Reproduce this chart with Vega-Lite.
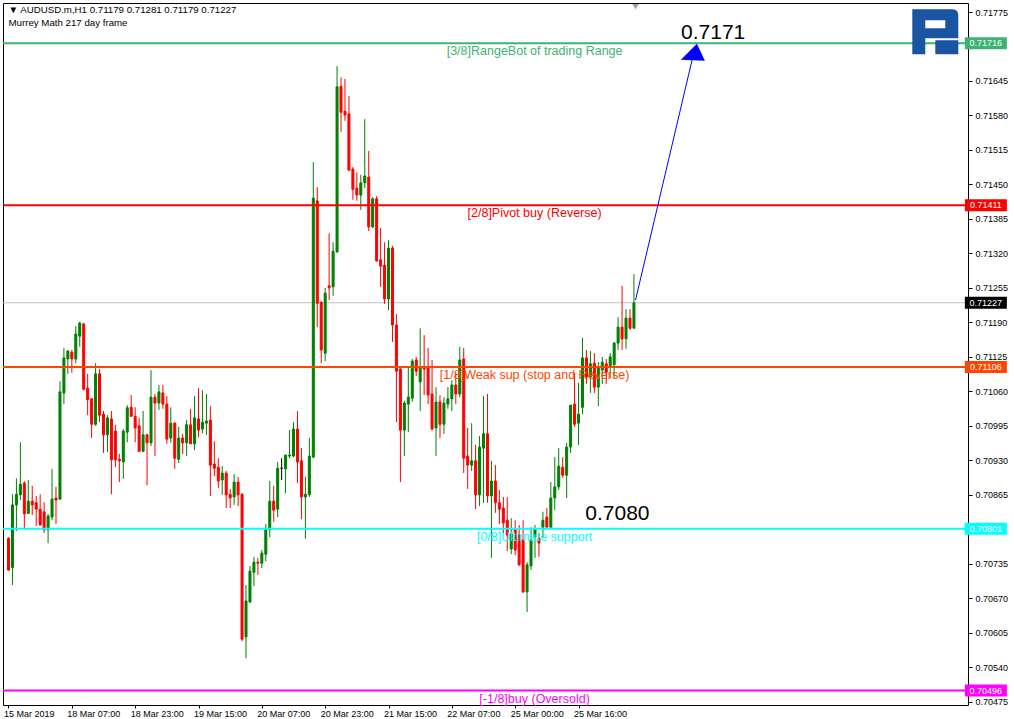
{
  "$schema": "https://vega.github.io/schema/vega-lite/v6.json",
  "width": 965,
  "height": 702,
  "autosize": {"type": "none"},
  "padding": {"left": 3, "top": 3, "right": 46, "bottom": 14},
  "background": "#FFFFFF",
  "config": {
    "view": {"stroke": "#000000", "strokeWidth": 1},
    "font": "Liberation Sans",
    "axis": {"grid": false, "domain": false, "tickColor": "#000000", "labelColor": "#000000", "labelFont": "Liberation Sans", "labelFontSize": 9, "title": null, "labelOverlap": false}
  },
  "datasets": {
    "candles": [
      {"i":0,"o":0.70783,"h":0.70785,"l":0.70722,"c":0.70723},
      {"i":1,"o":0.70728,"h":0.70866,"l":0.70695,"c":0.70846},
      {"i":2,"o":0.70846,"h":0.70896,"l":0.70797,"c":0.70866},
      {"i":3,"o":0.70865,"h":0.70964,"l":0.70855,"c":0.70885},
      {"i":4,"o":0.70887,"h":0.70891,"l":0.70799,"c":0.70829},
      {"i":5,"o":0.70830,"h":0.70893,"l":0.70829,"c":0.70853},
      {"i":6,"o":0.70853,"h":0.70882,"l":0.70827,"c":0.70846},
      {"i":7,"o":0.70850,"h":0.70863,"l":0.70806,"c":0.70838},
      {"i":8,"o":0.70838,"h":0.70866,"l":0.70808,"c":0.70808},
      {"i":9,"o":0.70833,"h":0.70851,"l":0.70793,"c":0.70799},
      {"i":10,"o":0.70799,"h":0.70829,"l":0.70774,"c":0.70825},
      {"i":11,"o":0.70823,"h":0.70914,"l":0.70817,"c":0.70857},
      {"i":12,"o":0.70859,"h":0.70880,"l":0.70810,"c":0.70855},
      {"i":13,"o":0.70857,"h":0.71079,"l":0.70855,"c":0.71059},
      {"i":14,"o":0.71057,"h":0.71142,"l":0.71036,"c":0.71123},
      {"i":15,"o":0.71121,"h":0.71138,"l":0.71093,"c":0.71136},
      {"i":16,"o":0.71134,"h":0.71138,"l":0.71095,"c":0.71121},
      {"i":17,"o":0.71121,"h":0.71183,"l":0.71113,"c":0.71168},
      {"i":18,"o":0.71164,"h":0.71191,"l":0.71144,"c":0.71189},
      {"i":19,"o":0.71187,"h":0.71189,"l":0.71062,"c":0.71064},
      {"i":20,"o":0.71066,"h":0.71093,"l":0.71015,"c":0.71044},
      {"i":21,"o":0.71046,"h":0.71047,"l":0.70972,"c":0.70998},
      {"i":22,"o":0.70998,"h":0.71113,"l":0.70995,"c":0.71093},
      {"i":23,"o":0.71093,"h":0.71102,"l":0.71002,"c":0.71015},
      {"i":24,"o":0.71017,"h":0.71023,"l":0.70944,"c":0.70978},
      {"i":25,"o":0.70978,"h":0.71015,"l":0.70946,"c":0.71010},
      {"i":26,"o":0.71008,"h":0.71023,"l":0.70866,"c":0.70931},
      {"i":27,"o":0.70985,"h":0.70997,"l":0.70917,"c":0.70931},
      {"i":28,"o":0.70932,"h":0.70942,"l":0.70889,"c":0.70929},
      {"i":29,"o":0.70927,"h":0.70989,"l":0.70895,"c":0.70985},
      {"i":30,"o":0.70983,"h":0.71034,"l":0.70964,"c":0.71029},
      {"i":31,"o":0.71030,"h":0.71053,"l":0.71012,"c":0.71013},
      {"i":32,"o":0.71013,"h":0.71030,"l":0.70964,"c":0.70991},
      {"i":33,"o":0.70995,"h":0.71010,"l":0.70947,"c":0.70947},
      {"i":34,"o":0.70947,"h":0.71023,"l":0.70946,"c":0.70978},
      {"i":35,"o":0.70978,"h":0.70980,"l":0.70883,"c":0.70963},
      {"i":36,"o":0.70963,"h":0.71100,"l":0.70957,"c":0.71049},
      {"i":37,"o":0.71049,"h":0.71055,"l":0.70938,"c":0.71038},
      {"i":38,"o":0.71038,"h":0.71072,"l":0.71025,"c":0.71059},
      {"i":39,"o":0.71057,"h":0.71072,"l":0.71027,"c":0.71036},
      {"i":40,"o":0.71036,"h":0.71051,"l":0.70961,"c":0.70970},
      {"i":41,"o":0.70972,"h":0.71030,"l":0.70963,"c":0.71000},
      {"i":42,"o":0.71000,"h":0.71002,"l":0.70914,"c":0.70934},
      {"i":43,"o":0.70932,"h":0.70993,"l":0.70925,"c":0.70972},
      {"i":44,"o":0.70972,"h":0.70980,"l":0.70942,"c":0.70963},
      {"i":45,"o":0.70963,"h":0.71006,"l":0.70938,"c":0.70997},
      {"i":46,"o":0.70997,"h":0.71027,"l":0.70961,"c":0.70961},
      {"i":47,"o":0.70961,"h":0.71051,"l":0.70949,"c":0.71010},
      {"i":48,"o":0.71008,"h":0.71066,"l":0.70974,"c":0.70987},
      {"i":49,"o":0.70989,"h":0.71062,"l":0.70981,"c":0.71002},
      {"i":50,"o":0.71000,"h":0.71055,"l":0.70978,"c":0.71004},
      {"i":51,"o":0.71006,"h":0.71032,"l":0.70863,"c":0.70921},
      {"i":52,"o":0.70923,"h":0.70966,"l":0.70900,"c":0.70915},
      {"i":53,"o":0.70917,"h":0.70934,"l":0.70878,"c":0.70891},
      {"i":54,"o":0.70893,"h":0.70919,"l":0.70865,"c":0.70906},
      {"i":55,"o":0.70906,"h":0.70910,"l":0.70840,"c":0.70865},
      {"i":56,"o":0.70866,"h":0.70876,"l":0.70840,"c":0.70859},
      {"i":57,"o":0.70861,"h":0.70904,"l":0.70846,"c":0.70889},
      {"i":58,"o":0.70889,"h":0.70899,"l":0.70844,"c":0.70865},
      {"i":59,"o":0.70866,"h":0.70868,"l":0.70589,"c":0.70593},
      {"i":60,"o":0.70597,"h":0.70695,"l":0.70557,"c":0.70665},
      {"i":61,"o":0.70663,"h":0.70731,"l":0.70661,"c":0.70721},
      {"i":62,"o":0.70719,"h":0.70748,"l":0.70693,"c":0.70738},
      {"i":63,"o":0.70738,"h":0.70746,"l":0.70714,"c":0.70736},
      {"i":64,"o":0.70736,"h":0.70761,"l":0.70727,"c":0.70755},
      {"i":65,"o":0.70753,"h":0.70810,"l":0.70740,"c":0.70799},
      {"i":66,"o":0.70799,"h":0.70891,"l":0.70785,"c":0.70853},
      {"i":67,"o":0.70853,"h":0.70882,"l":0.70814,"c":0.70836},
      {"i":68,"o":0.70838,"h":0.70927,"l":0.70823,"c":0.70915},
      {"i":69,"o":0.70915,"h":0.70934,"l":0.70893,"c":0.70915},
      {"i":70,"o":0.70914,"h":0.70940,"l":0.70868,"c":0.70940},
      {"i":71,"o":0.70938,"h":0.70987,"l":0.70934,"c":0.70940},
      {"i":72,"o":0.70938,"h":0.71002,"l":0.70936,"c":0.70989},
      {"i":73,"o":0.70989,"h":0.71023,"l":0.70887,"c":0.70927},
      {"i":74,"o":0.70929,"h":0.70953,"l":0.70819,"c":0.70861},
      {"i":75,"o":0.70861,"h":0.70899,"l":0.70782,"c":0.70866},
      {"i":76,"o":0.70865,"h":0.70972,"l":0.70861,"c":0.70938},
      {"i":77,"o":0.70936,"h":0.71492,"l":0.70934,"c":0.71424},
      {"i":78,"o":0.71419,"h":0.71445,"l":0.71181,"c":0.71226},
      {"i":79,"o":0.71228,"h":0.71230,"l":0.71113,"c":0.71138},
      {"i":80,"o":0.71132,"h":0.71255,"l":0.71117,"c":0.71245},
      {"i":81,"o":0.71259,"h":0.71358,"l":0.71232,"c":0.71255},
      {"i":82,"o":0.71257,"h":0.71341,"l":0.71240,"c":0.71324},
      {"i":83,"o":0.71323,"h":0.71673,"l":0.71321,"c":0.71634},
      {"i":84,"o":0.71635,"h":0.71652,"l":0.71549,"c":0.71586},
      {"i":85,"o":0.71588,"h":0.71649,"l":0.71570,"c":0.71581},
      {"i":86,"o":0.71583,"h":0.71617,"l":0.71475,"c":0.71477},
      {"i":87,"o":0.71479,"h":0.71483,"l":0.71421,"c":0.71441},
      {"i":88,"o":0.71443,"h":0.71473,"l":0.71419,"c":0.71430},
      {"i":89,"o":0.71430,"h":0.71468,"l":0.71402,"c":0.71453},
      {"i":90,"o":0.71453,"h":0.71573,"l":0.71443,"c":0.71466},
      {"i":91,"o":0.71464,"h":0.71513,"l":0.71362,"c":0.71370},
      {"i":92,"o":0.71370,"h":0.71426,"l":0.71368,"c":0.71423},
      {"i":93,"o":0.71423,"h":0.71428,"l":0.71304,"c":0.71306},
      {"i":94,"o":0.71308,"h":0.71368,"l":0.71257,"c":0.71296},
      {"i":95,"o":0.71298,"h":0.71341,"l":0.71225,"c":0.71234},
      {"i":96,"o":0.71234,"h":0.71345,"l":0.71213,"c":0.71330},
      {"i":97,"o":0.71330,"h":0.71334,"l":0.71153,"c":0.71185},
      {"i":98,"o":0.71185,"h":0.71206,"l":0.71002,"c":0.71098},
      {"i":99,"o":0.71102,"h":0.71104,"l":0.70889,"c":0.70987},
      {"i":100,"o":0.70987,"h":0.71042,"l":0.70938,"c":0.71038},
      {"i":101,"o":0.71036,"h":0.71106,"l":0.70983,"c":0.71049},
      {"i":102,"o":0.71047,"h":0.71121,"l":0.71040,"c":0.71117},
      {"i":103,"o":0.71119,"h":0.71125,"l":0.71089,"c":0.71098},
      {"i":104,"o":0.71078,"h":0.71179,"l":0.71023,"c":0.71106},
      {"i":105,"o":0.71106,"h":0.71166,"l":0.71053,"c":0.71102},
      {"i":106,"o":0.71104,"h":0.71142,"l":0.71036,"c":0.71053},
      {"i":107,"o":0.71055,"h":0.71119,"l":0.70987,"c":0.70989},
      {"i":108,"o":0.70991,"h":0.71068,"l":0.70938,"c":0.71040},
      {"i":109,"o":0.71040,"h":0.71053,"l":0.70972,"c":0.70998},
      {"i":110,"o":0.70998,"h":0.71049,"l":0.70980,"c":0.71038},
      {"i":111,"o":0.71036,"h":0.71068,"l":0.71027,"c":0.71046},
      {"i":112,"o":0.71046,"h":0.71081,"l":0.71023,"c":0.71072},
      {"i":113,"o":0.71072,"h":0.71096,"l":0.71036,"c":0.71055},
      {"i":114,"o":0.71055,"h":0.71144,"l":0.71049,"c":0.71119},
      {"i":115,"o":0.71121,"h":0.71142,"l":0.70906,"c":0.70934},
      {"i":116,"o":0.70938,"h":0.70991,"l":0.70876,"c":0.70921},
      {"i":117,"o":0.70921,"h":0.71000,"l":0.70910,"c":0.70929},
      {"i":118,"o":0.70929,"h":0.70959,"l":0.70838,"c":0.70865},
      {"i":119,"o":0.70865,"h":0.70976,"l":0.70844,"c":0.70955},
      {"i":120,"o":0.70953,"h":0.71051,"l":0.70850,"c":0.70980},
      {"i":121,"o":0.70980,"h":0.71055,"l":0.70850,"c":0.70863},
      {"i":122,"o":0.70863,"h":0.70929,"l":0.70746,"c":0.70891},
      {"i":123,"o":0.70891,"h":0.70921,"l":0.70831,"c":0.70850},
      {"i":124,"o":0.70850,"h":0.70874,"l":0.70810,"c":0.70838},
      {"i":125,"o":0.70840,"h":0.70861,"l":0.70793,"c":0.70812},
      {"i":126,"o":0.70817,"h":0.70861,"l":0.70759,"c":0.70789},
      {"i":127,"o":0.70763,"h":0.70821,"l":0.70753,"c":0.70791},
      {"i":128,"o":0.70799,"h":0.70817,"l":0.70751,"c":0.70761},
      {"i":129,"o":0.70789,"h":0.70808,"l":0.70731,"c":0.70733},
      {"i":130,"o":0.70780,"h":0.70817,"l":0.70680,"c":0.70682},
      {"i":131,"o":0.70682,"h":0.70738,"l":0.70644,"c":0.70733},
      {"i":132,"o":0.70731,"h":0.70804,"l":0.70723,"c":0.70780},
      {"i":133,"o":0.70785,"h":0.70808,"l":0.70746,"c":0.70801},
      {"i":134,"o":0.70783,"h":0.70793,"l":0.70748,"c":0.70774},
      {"i":135,"o":0.70804,"h":0.70833,"l":0.70785,"c":0.70817},
      {"i":136,"o":0.70823,"h":0.70840,"l":0.70802,"c":0.70804},
      {"i":137,"o":0.70804,"h":0.70889,"l":0.70802,"c":0.70859},
      {"i":138,"o":0.70859,"h":0.70936,"l":0.70836,"c":0.70880},
      {"i":139,"o":0.70880,"h":0.70953,"l":0.70874,"c":0.70919},
      {"i":140,"o":0.70917,"h":0.70936,"l":0.70897,"c":0.70902},
      {"i":141,"o":0.70902,"h":0.70963,"l":0.70859,"c":0.70955},
      {"i":142,"o":0.70955,"h":0.71034,"l":0.70944,"c":0.71034},
      {"i":143,"o":0.71036,"h":0.71095,"l":0.70993,"c":0.70998},
      {"i":144,"o":0.71000,"h":0.71076,"l":0.70959,"c":0.71017},
      {"i":145,"o":0.71030,"h":0.71161,"l":0.71017,"c":0.71123},
      {"i":146,"o":0.71123,"h":0.71138,"l":0.71074,"c":0.71087},
      {"i":147,"o":0.71087,"h":0.71136,"l":0.71057,"c":0.71112},
      {"i":148,"o":0.71113,"h":0.71132,"l":0.71057,"c":0.71068},
      {"i":149,"o":0.71068,"h":0.71115,"l":0.71032,"c":0.71104},
      {"i":150,"o":0.71100,"h":0.71125,"l":0.71074,"c":0.71115},
      {"i":151,"o":0.71112,"h":0.71121,"l":0.71074,"c":0.71096},
      {"i":152,"o":0.71108,"h":0.71132,"l":0.71085,"c":0.71125},
      {"i":153,"o":0.71110,"h":0.71153,"l":0.71085,"c":0.71151},
      {"i":154,"o":0.71151,"h":0.71200,"l":0.71138,"c":0.71181},
      {"i":155,"o":0.71181,"h":0.71259,"l":0.71138,"c":0.71159},
      {"i":156,"o":0.71159,"h":0.71215,"l":0.71140,"c":0.71198},
      {"i":157,"o":0.71198,"h":0.71215,"l":0.71176,"c":0.71179},
      {"i":158,"o":0.71179,"h":0.71281,"l":0.71179,"c":0.71227}
    ],
    "levels": [
      {"name":"[3/8]RangeBot of trading Range","price":0.71716},
      {"name":"[2/8]Pivot buy (Reverse)","price":0.71411},
      {"name":"[1/8]Weak sup (stop and Reverse)","price":0.71106},
      {"name":"[0/8]Ultimate support","price":0.70801},
      {"name":"[-1/8]buy (Oversold)","price":0.70496}
    ],
    "tags": [
      {"name":"[3/8]RangeBot of trading Range","price":0.71716},
      {"name":"[2/8]Pivot buy (Reverse)","price":0.71411},
      {"name":"bid","price":0.71227},
      {"name":"[1/8]Weak sup (stop and Reverse)","price":0.71106},
      {"name":"[0/8]Ultimate support","price":0.70801},
      {"name":"[-1/8]buy (Oversold)","price":0.70496}
    ],
    "arrow": [
      {"i":158.4,"p":0.71232},
      {"i":172.7,"p":0.71685}
    ],
    "one": [{"k":1}]
  },
  "layer": [
    {
      "data": {"name": "one"},
      "mark": {"type": "rule", "color": "#C0C0C0", "strokeWidth": 1},
      "encoding": {
        "y": {"datum": 0.71227, "type": "quantitative", "scale": {"domain": [0.704688, 0.71792], "nice": false, "zero": false}}
      }
    },
    {
      "data": {"name": "candles"},
      "mark": {"type": "rule", "strokeWidth": 1},
      "encoding": {
        "x": {
          "field": "i", "type": "quantitative", "title": null,
          "scale": {"domain": [-0.125, 241.125], "nice": false, "zero": false},
          "axis": {
            "orient": "bottom", "values": [0,16,32,48,64,80,96,112,128,144], "tickCount": 40,
            "labelExpr": "['15 Mar 2019','18 Mar 07:00','18 Mar 23:00','19 Mar 15:00','20 Mar 07:00','20 Mar 23:00','21 Mar 15:00','22 Mar 07:00','25 Mar 00:00','25 Mar 16:00'][round(datum.value/16)]",
            "labelAlign": "left", "labelBaseline": "top", "tickSize": 3, "labelPadding": 1, "labelOffset": -5,
            "labelOverlap": false, "labelFlush": false, "labelBound": false, "title": null
          }
        },
        "y": {
          "field": "l", "type": "quantitative", "title": null,
          "scale": {"domain": [0.704688, 0.71792], "nice": false, "zero": false},
          "axis": {
            "orient": "right", "tickCount": 40,
            "values": [0.70475,0.7054,0.70605,0.7067,0.70735,0.708,0.70865,0.7093,0.70995,0.7106,0.71125,0.7119,0.71255,0.7132,0.71385,0.7145,0.71515,0.7158,0.71645,0.7171,0.71775],
            "labelExpr": "abs(datum.value - 0.7171) < 0.000001 || abs(datum.value - 0.708) < 0.000001 ? '' : format(datum.value, '.5f')",
            "tickSize": 4, "labelPadding": 3, "labelBaseline": "middle",
            "labelOverlap": false, "labelFlush": false, "labelBound": false, "title": null
          }
        },
        "y2": {"field": "h"},
        "color": {
          "condition": [
            {"test": "datum.c == datum.o", "value": "#000000"},
            {"test": "datum.c > datum.o", "value": "#008000"}
          ],
          "value": "#FF0000"
        }
      }
    },
    {
      "data": {"name": "candles"},
      "mark": {"type": "bar", "width": 2, "strokeWidth": 1},
      "encoding": {
        "x": {"field": "i", "type": "quantitative", "title": null},
        "y": {"field": "o", "type": "quantitative", "title": null},
        "y2": {"field": "c"},
        "color": {
          "condition": [
            {"test": "datum.c == datum.o", "value": "#000000"},
            {"test": "datum.c > datum.o", "value": "#008000"}
          ],
          "value": "#FF0000"
        },
        "stroke": {
          "condition": [
            {"test": "datum.c == datum.o", "value": "#000000"},
            {"test": "datum.c > datum.o", "value": "#008000"}
          ],
          "value": "#FF0000"
        }
      }
    },
    {
      "data": {"name": "levels"},
      "mark": {"type": "rule", "strokeWidth": 2},
      "encoding": {
        "y": {"field": "price", "type": "quantitative", "title": null},
        "color": {
          "field": "name", "type": "nominal", "legend": null,
          "scale": {
            "domain": ["[3/8]RangeBot of trading Range","[2/8]Pivot buy (Reverse)","[1/8]Weak sup (stop and Reverse)","[0/8]Ultimate support","[-1/8]buy (Oversold)","bid"],
            "range": ["#3CB371","#FF0000","#FF4500","#00FFFF","#FF00FF","#000000"]
          }
        }
      }
    },
    {
      "data": {"name": "levels"},
      "mark": {"type": "text", "align": "center", "baseline": "top", "dy": 2, "font": "Liberation Sans", "fontSize": 12.5},
      "encoding": {
        "x": {"datum": 132.9, "type": "quantitative"},
        "y": {"field": "price", "type": "quantitative", "title": null},
        "text": {"field": "name"},
        "color": {"field": "name", "type": "nominal", "legend": null}
      }
    },
    {
      "data": {"name": "tags"},
      "mark": {"type": "point", "filled": true, "opacity": 1, "size": 1764, "shape": "M-1,-0.2857H1V0.2857H-1Z", "strokeWidth": 0},
      "encoding": {
        "x": {"datum": 246.9, "type": "quantitative"},
        "y": {"field": "price", "type": "quantitative", "title": null},
        "color": {"field": "name", "type": "nominal", "legend": null}
      }
    },
    {
      "data": {"name": "tags"},
      "mark": {"type": "text", "align": "center", "baseline": "middle", "color": "#FFFFFF", "font": "Liberation Sans", "fontSize": 9},
      "encoding": {
        "x": {"datum": 246.9, "type": "quantitative"},
        "y": {"field": "price", "type": "quantitative", "title": null},
        "text": {"field": "price", "type": "quantitative", "format": ".5f"}
      }
    },
    {
      "data": {"name": "arrow"},
      "mark": {"type": "line", "color": "#0000FF", "strokeWidth": 1},
      "encoding": {
        "x": {"field": "i", "type": "quantitative", "title": null},
        "y": {"field": "p", "type": "quantitative", "title": null}
      }
    },
    {
      "data": {"name": "one"},
      "mark": {"type": "point", "filled": true, "opacity": 1, "color": "#0000FF", "size": 576, "shape": "M0,0L0.667,1.417L-1.333,1.333Z"},
      "encoding": {
        "x": {"datum": 173.9, "type": "quantitative"},
        "y": {"datum": 0.71715, "type": "quantitative"}
      }
    },
    {
      "data": {"name": "one"},
      "mark": {"type": "text", "align": "left", "baseline": "alphabetic", "dy": -4, "font": "Liberation Sans", "fontSize": 21, "color": "#000000"},
      "encoding": {
        "x": {"datum": 169.9, "type": "quantitative"},
        "y": {"datum": 0.71716, "type": "quantitative"},
        "text": {"value": "0.7171"}
      }
    },
    {
      "data": {"name": "one"},
      "mark": {"type": "text", "align": "left", "baseline": "alphabetic", "dy": -9, "font": "Liberation Sans", "fontSize": 21, "color": "#000000"},
      "encoding": {
        "x": {"datum": 145.7, "type": "quantitative"},
        "y": {"datum": 0.70801, "type": "quantitative"},
        "text": {"value": "0.7080"}
      }
    },
    {
      "data": {"name": "one"},
      "mark": {"type": "text", "align": "left", "baseline": "top", "lineHeight": 13, "font": "Liberation Sans", "fontSize": 9.7, "color": "#000000"},
      "encoding": {
        "x": {"datum": 0.0, "type": "quantitative"},
        "y": {"datum": 0.71788, "type": "quantitative"},
        "text": {"value": ["▼ AUDUSD.m,H1  0.71179 0.71281 0.71179 0.71227", "Murrey Math 217 day frame"]}
      }
    },
    {
      "data": {"name": "one"},
      "mark": {"type": "point", "filled": true, "opacity": 1, "color": "#1A55A3", "strokeWidth": 0, "size": 2116, "shape": "M-1,-0.978H0.739Q1,-0.978,1,-0.717V0.283H-0.435V0.978H-1ZM-0.435,-0.5V-0.152H0.435V-0.5ZM0,0.37H1V0.978H0Z"},
      "encoding": {
        "x": {"datum": 234.125, "type": "quantitative"},
        "y": {"datum": 0.71738, "type": "quantitative"}
      }
    },
    {
      "data": {"name": "one"},
      "mark": {"type": "point", "filled": true, "opacity": 1, "color": "#A0A0A0", "shape": "triangle-down", "size": 40},
      "encoding": {
        "x": {"datum": 158.4, "type": "quantitative"},
        "y": {"datum": 0.71785, "type": "quantitative"}
      }
    }
  ]
}
